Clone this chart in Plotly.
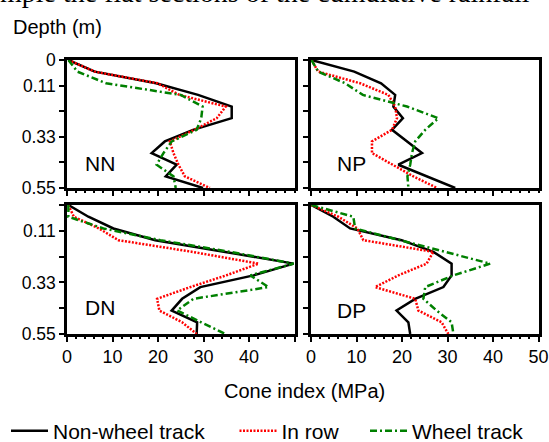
import plotly.graph_objects as go

# ---------------- data ----------------
depth = [0.0, 0.05, 0.10, 0.15, 0.20, 0.25, 0.30, 0.35, 0.40, 0.45, 0.50, 0.55]

nn_nonwheel = [0.3, 6.1, 19.6, 28.8, 36.2, 36.2, 27.7, 21.5, 18.6, 24.1, 21.7, 29.9]
nn_inrow    = [0.3, 6.1, 19.9, 24.7, 34.9, 32.9, 28.0, 22.6, 23.4, 24.5, 25.9, 31.4]
nn_wheel    = [0.3, 2.3, 8.6, 25.0, 29.8, 29.5, 28.5, 23.0, 21.2, 19.7, 23.4, 23.9]

np_nonwheel = [0.1, 9.5, 15.4, 18.5, 18.1, 20.2, 17.8, 21.0, 24.4, 19.2, 25.3, 31.7]
np_inrow    = [0.1, 1.6, 10.8, 17.0, 18.5, 18.9, 17.8, 13.4, 13.4, 17.8, 22.5, 27.7]
np_wheel    = [0.1, 1.6, 7.5, 11.4, 21.1, 28.0, 25.1, 22.9, 22.2, 21.8, 21.2, 21.4]

dn_nonwheel = [0.3, 4.7, 10.2, 19.4, 34.8, 49.8, 41.0, 29.3, 25.3, 23.0, 28.6, 28.5]
dn_inrow    = [0.3, 1.5, 7.0, 11.3, 27.6, 42.1, 35.0, 27.1, 19.8, 20.3, 25.3, 28.5]
dn_wheel    = [0.3, 0.3, 8.0, 20.5, 35.9, 49.8, 40.3, 44.3, 27.8, 24.2, 29.5, 34.8]

dp_nonwheel = [0.1, 4.9, 8.6, 19.9, 26.9, 30.9, 30.9, 29.1, 22.9, 18.8, 21.4, 21.8]
dp_inrow    = [0.1, 6.0, 10.2, 11.5, 26.9, 25.4, 19.2, 14.1, 22.9, 23.6, 28.7, 30.2]
dp_wheel    = [0.1, 9.3, 9.7, 19.5, 29.6, 39.4, 31.3, 25.1, 24.7, 27.6, 30.9, 31.3]

panel_names = ["NN", "NP", "DN", "DP"]
series_names = ["Non-wheel track", "In row", "Wheel track"]
panel_data = [
    [nn_nonwheel, nn_inrow, nn_wheel],
    [np_nonwheel, np_inrow, np_wheel],
    [dn_nonwheel, dn_inrow, dn_wheel],
    [dp_nonwheel, dp_inrow, dp_wheel],
]
y_tickvals = [0, 0.11, 0.22, 0.33, 0.44, 0.55]
y_ticktext_top = ["0", "0.11", "", "0.33", "", "0.55"]
y_ticktext_bottom = ["", "0.11", "", "0.33", "", "0.55"]
x_tickvals = [0, 10, 20, 30, 40, 50]

# ---------------- styles ----------------
W, H = 549, 442
FONT = "Liberation Sans, Arial, sans-serif"
styles = [
    dict(color="black", width=2.5, dash="solid"),
    dict(color="#ff0000", width=2.5, dash="2px,1.5px"),
    dict(color="#008000", width=2.5, dash="7px,3px,2px,3px"),
]

# pixel boxes (left, right, top, bottom)
boxes = [
    (67, 294.5, 60, 188),
    (311, 538.5, 60, 188),
    (67, 294.5, 205, 334),
    (311, 538.5, 205, 334),
]
# panel label positions (px: left edge, vertical centre)
label_px = [(85, 163), (337, 163), (85, 307), (337, 310)]
# legend positions (px)
legend_x = [6, 234.5, 365]
legend_ids = ["legend", "legend2", "legend3"]

fig = go.Figure()
for p, (name, series) in enumerate(zip(panel_names, panel_data)):
    ax = "" if p == 0 else str(p + 1)
    for s, vals in enumerate(series):
        fig.add_trace(go.Scatter(
            x=vals, y=depth, mode="lines", name=series_names[s],
            line=styles[s], xaxis="x" + ax, yaxis="y" + ax,
            showlegend=(p == 0), legend=legend_ids[s],
        ))

for p, (l, r, t, b) in enumerate(boxes):
    ax = "" if p == 0 else str(p + 1)
    left_col = p in (0, 2)
    bottom_row = p in (2, 3)
    xticktext = ["0", "10", "20", "30", "40", "50"] if p == 3 else ["0", "10", "20", "30", "40", ""]
    fig.layout["xaxis" + ax] = dict(
        domain=[l / W, r / W], anchor="y" + ax, range=[0, 50],
        showline=True, linecolor="black", linewidth=2.5, mirror=True,
        ticks="outside", ticklen=5, tickwidth=2, tickcolor="black",
        tickvals=x_tickvals, ticktext=xticktext,
        showticklabels=bottom_row,
        minor=dict(dtick=2, tick0=0, ticks="outside", ticklen=2.5, tickwidth=1.5, tickcolor="black"),
        showgrid=False, zeroline=False,
        tickfont=dict(family=FONT, size=18, color="black"),
    )
    fig.layout["yaxis" + ax] = dict(
        domain=[1 - b / H, 1 - t / H], anchor="x" + ax, range=[0.55, 0],
        showline=True, linecolor="black", linewidth=2.5, mirror=True,
        ticks="outside", ticklen=5, tickwidth=2, tickcolor="black",
        tickvals=y_tickvals,
        ticktext=y_ticktext_bottom if bottom_row else y_ticktext_top,
        showticklabels=left_col,
        showgrid=False, zeroline=False,
        tickfont=dict(family=FONT, size=17.5, color="black"),
    )
    lx, ly = label_px[p]
    fig.add_annotation(
        x=(lx - 2) / W, y=1 - ly / H, xref="paper", yref="paper",
        text=panel_names[p], showarrow=False, xanchor="left", yanchor="middle",
        font=dict(family=FONT, size=21, color="black"),
    )

fig.add_annotation(
    x=10.5 / W, y=1 - 27 / H, xref="paper", yref="paper", text="Depth (m)",
    showarrow=False, xanchor="left", yanchor="middle",
    font=dict(family=FONT, size=20, color="black"),
)
fig.add_annotation(
    x=304 / W, y=1 - 391 / H, xref="paper", yref="paper", text="Cone index (MPa)",
    showarrow=False, xanchor="center", yanchor="middle",
    font=dict(family=FONT, size=20, color="black"),
)
fig.add_annotation(
    x=-2 / W, y=1 + 7.5 / H, xref="paper", yref="paper",
    text="mple the flat sections of the cumulative rainfall",
    showarrow=False, xanchor="left", yanchor="middle",
    font=dict(family="Liberation Serif, Times New Roman, serif", size=28, color="black"),
)

legend_common = dict(
    orientation="h", yanchor="middle", y=1 - 431 / H, xanchor="left",
    font=dict(family=FONT, size=21, color="black"),
    bgcolor="rgba(0,0,0,0)", itemwidth=37, borderwidth=0,
)
fig.update_layout(
    width=W, height=H, margin=dict(l=0, r=0, t=0, b=0, autoexpand=False),
    paper_bgcolor="white", plot_bgcolor="white",
    showlegend=True,
    legend=dict(legend_common, x=legend_x[0] / W),
    legend2=dict(legend_common, x=legend_x[1] / W),
    legend3=dict(legend_common, x=legend_x[2] / W),
)

fig.write_html(
    "out.html",
    config={"displayModeBar": False},
    post_script="document.body.style.margin='0';document.body.style.overflow='hidden';",
)
